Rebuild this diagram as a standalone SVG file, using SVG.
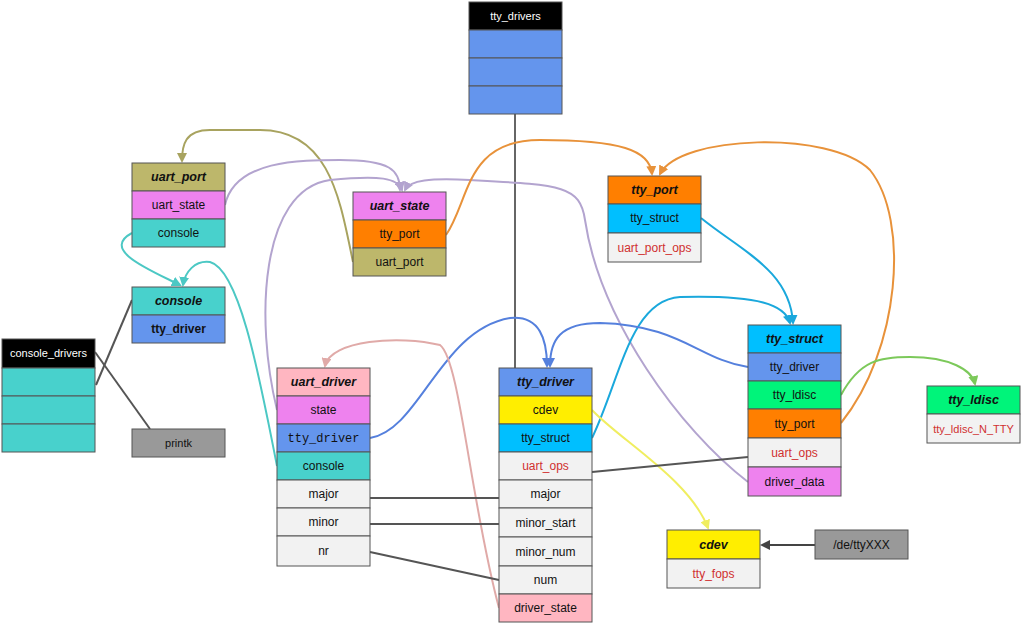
<svg xmlns="http://www.w3.org/2000/svg" width="1024" height="628" viewBox="0 0 1024 628">
<style>
rect{stroke:#555;stroke-width:1}
text{font-family:"Liberation Sans",Arial,sans-serif;font-size:12px;text-anchor:middle;fill:#111}
.h{font-weight:bold;font-style:italic;font-size:12.5px}
.w{fill:#fff}
.r{fill:#d03030}
.m{font-family:"Liberation Mono","DejaVu Sans Mono",monospace}
.s{font-size:11px}
.bk{fill:#000}.bl{fill:#6495ed}.ol{fill:#bdb76b}.vi{fill:#ee82ee}.tq{fill:#48d1cc}.or{fill:#ff7f00}.sk{fill:#00bfff}.lt{fill:#f2f2f2}.pk{fill:#ffb6c1}.ye{fill:#ffee00}.gr{fill:#00f47a}.gy{fill:#999}
#conn path,#conn line{fill:none;stroke-width:2}
</style>
<defs>
<marker id="aOl" markerWidth="10" markerHeight="10" refX="8" refY="5" orient="auto" markerUnits="userSpaceOnUse"><path d="M0,0L10,5L0,10z" fill="#a8a35f"/></marker>
<marker id="aVi" markerWidth="10" markerHeight="10" refX="8" refY="5" orient="auto" markerUnits="userSpaceOnUse"><path d="M0,0L10,5L0,10z" fill="#b3a4cf"/></marker>
<marker id="aOr" markerWidth="10" markerHeight="10" refX="8" refY="5" orient="auto" markerUnits="userSpaceOnUse"><path d="M0,0L10,5L0,10z" fill="#e8923a"/></marker>
<marker id="aSk" markerWidth="10" markerHeight="10" refX="8" refY="5" orient="auto" markerUnits="userSpaceOnUse"><path d="M0,0L10,5L0,10z" fill="#1aa8dc"/></marker>
<marker id="aBl" markerWidth="10" markerHeight="10" refX="8" refY="5" orient="auto" markerUnits="userSpaceOnUse"><path d="M0,0L10,5L0,10z" fill="#5580dd"/></marker>
<marker id="aPk" markerWidth="10" markerHeight="10" refX="8" refY="5" orient="auto" markerUnits="userSpaceOnUse"><path d="M0,0L10,5L0,10z" fill="#e0aaa8"/></marker>
<marker id="aTq" markerWidth="10" markerHeight="10" refX="8" refY="5" orient="auto" markerUnits="userSpaceOnUse"><path d="M0,0L10,5L0,10z" fill="#4cc8c4"/></marker>
<marker id="aGr" markerWidth="10" markerHeight="10" refX="8" refY="5" orient="auto" markerUnits="userSpaceOnUse"><path d="M0,0L10,5L0,10z" fill="#7cc95a"/></marker>
<marker id="aYe" markerWidth="10" markerHeight="10" refX="8" refY="5" orient="auto" markerUnits="userSpaceOnUse"><path d="M0,0L10,5L0,10z" fill="#f0ee60"/></marker>
<marker id="aDk" markerWidth="10" markerHeight="10" refX="8" refY="5" orient="auto" markerUnits="userSpaceOnUse"><path d="M0,0L10,5L0,10z" fill="#444"/></marker>
</defs>
<g id="conn">
<line x1="515" y1="114" x2="515" y2="368" stroke="#666"/>
<path d="M353,262 C340,200 330,130 260,130 L210,130 C185,130 182,145 182,161" stroke="#a8a35f" marker-end="url(#aOl)"/>
<path d="M225,205 C235,160 300,160 340,160 C390,160 400,170 400,190" stroke="#b3a4cf" marker-end="url(#aVi)"/>
<path d="M277,410 C255,320 260,190 330,180 C380,175 398,178 402,190" stroke="#b3a4cf" marker-end="url(#aVi)"/>
<path d="M748,482 C680,430 600,320 585,220 C580,185 560,185 470,180 C430,178 410,180 405,190" stroke="#b3a4cf" marker-end="url(#aVi)"/>
<path d="M446,235 C470,200 465,140 540,140 C620,140 650,150 652,174" stroke="#e8923a" marker-end="url(#aOr)"/>
<path d="M841,423 C900,350 910,220 870,170 C830,130 680,135 660,174" stroke="#e8923a" marker-end="url(#aOr)"/>
<path d="M701,218 C740,250 790,270 793,323" stroke="#1aa8dc" marker-end="url(#aSk)"/>
<path d="M592,438 C620,380 630,300 680,297 C760,295 785,305 790,323" stroke="#1aa8dc" marker-end="url(#aSk)"/>
<path d="M370,438 C420,430 440,330 510,318 C540,315 547,340 547,366" stroke="#5580dd" marker-end="url(#aBl)"/>
<path d="M748,367 C700,360 680,325 600,323 C560,323 550,340 550,366" stroke="#5580dd" marker-end="url(#aBl)"/>
<path d="M499,608 C470,500 460,360 440,345 C400,335 330,340 325,366" stroke="#e0aaa8" marker-end="url(#aPk)"/>
<path d="M132,233 C100,250 150,270 180,285" stroke="#4cc8c4" marker-end="url(#aTq)"/>
<path d="M277,466 C260,380 240,270 210,262 C195,260 185,272 183,285" stroke="#4cc8c4" marker-end="url(#aTq)"/>
<path d="M841,395 C860,360 880,357 910,357 C950,357 972,370 975,384" stroke="#7cc95a" marker-end="url(#aGr)"/>
<path d="M592,410 C620,440 690,480 708,528" stroke="#f0ee60" marker-end="url(#aYe)"/>
<line x1="96" y1="385" x2="132" y2="300" stroke="#555"/>
<line x1="95" y1="352" x2="150" y2="429" stroke="#555"/>
<line x1="370" y1="498" x2="499" y2="498" stroke="#555"/>
<line x1="370" y1="524" x2="499" y2="524" stroke="#555"/>
<line x1="370" y1="552" x2="499" y2="580" stroke="#555"/>
<line x1="592" y1="472" x2="748" y2="457" stroke="#555"/>
<line x1="815" y1="545" x2="762" y2="545" stroke="#444" marker-end="url(#aDk)"/>
</g>
<g id="tty_drivers">
<rect class="bk" x="469" y="2" width="93" height="28"/><text class="w s" x="515.5" y="20">tty_drivers</text>
<rect class="bl" x="469" y="30" width="93" height="28"/><rect class="bl" x="469" y="58" width="93" height="28"/><rect class="bl" x="469" y="86" width="93" height="28"/>
</g>
<g id="uart_port">
<rect class="ol" x="132" y="163" width="93" height="28"/><text class="h" x="178.5" y="181">uart_port</text>
<rect class="vi" x="132" y="191" width="93" height="28"/><text x="178.5" y="209">uart_state</text>
<rect class="tq" x="132" y="219" width="93" height="28"/><text x="178.5" y="237">console</text>
</g>
<g id="uart_state">
<rect class="vi" x="353" y="192" width="93" height="28"/><text class="h" x="399.5" y="210">uart_state</text>
<rect class="or" x="353" y="220" width="93" height="28"/><text x="399.5" y="238">tty_port</text>
<rect class="ol" x="353" y="248" width="93" height="28"/><text x="399.5" y="266">uart_port</text>
</g>
<g id="tty_port">
<rect class="or" x="608" y="176" width="93" height="28"/><text class="h" x="654.5" y="194">tty_port</text>
<rect class="sk" x="608" y="204" width="93" height="29"/><text x="654.5" y="222">tty_struct</text>
<rect class="lt" x="608" y="233" width="93" height="29"/><text class="r" x="654.5" y="252">uart_port_ops</text>
</g>
<g id="console">
<rect class="tq" x="132" y="287" width="93" height="28"/><text class="h" x="178.5" y="305">console</text>
<rect class="bl" x="132" y="315" width="93" height="28"/><text x="178.5" y="333" font-weight="bold">tty_driver</text>
</g>
<g id="console_drivers">
<rect class="bk" x="2" y="339" width="93" height="29"/><text class="w s" x="48.5" y="357">console_drivers</text>
<rect class="tq" x="2" y="368" width="93" height="28"/><rect class="tq" x="2" y="396" width="93" height="28"/><rect class="tq" x="2" y="424" width="93" height="28"/>
</g>
<g id="printk">
<rect class="gy" x="132" y="429" width="93" height="28"/><text class="s" x="178.5" y="447">printk</text>
</g>
<g id="uart_driver">
<rect class="pk" x="277" y="368" width="93" height="28"/><text class="h" x="323.5" y="386">uart_driver</text>
<rect class="vi" x="277" y="396" width="93" height="28"/><text x="323.5" y="414">state</text>
<rect class="bl" x="277" y="424" width="93" height="28"/><text class="m" x="323.5" y="442">tty_driver</text>
<rect class="tq" x="277" y="452" width="93" height="28"/><text x="323.5" y="470">console</text>
<rect class="lt" x="277" y="480" width="93" height="28"/><text x="323.5" y="498">major</text>
<rect class="lt" x="277" y="508" width="93" height="28"/><text x="323.5" y="526">minor</text>
<rect class="lt" x="277" y="536" width="93" height="30"/><text x="323.5" y="555">nr</text>
</g>
<g id="tty_driver">
<rect class="bl" x="499" y="368" width="93" height="28"/><text class="h" x="545.5" y="386">tty_driver</text>
<rect class="ye" x="499" y="396" width="93" height="28"/><text x="545.5" y="414">cdev</text>
<rect class="sk" x="499" y="424" width="93" height="28"/><text x="545.5" y="442">tty_struct</text>
<rect class="lt" x="499" y="452" width="93" height="28"/><text class="r" x="545.5" y="470">uart_ops</text>
<rect class="lt" x="499" y="480" width="93" height="28"/><text x="545.5" y="498">major</text>
<rect class="lt" x="499" y="508" width="93" height="29"/><text x="545.5" y="527">minor_start</text>
<rect class="lt" x="499" y="537" width="93" height="29"/><text x="545.5" y="556">minor_num</text>
<rect class="lt" x="499" y="566" width="93" height="28"/><text x="545.5" y="584">num</text>
<rect class="pk" x="499" y="594" width="93" height="28"/><text x="545.5" y="612">driver_state</text>
</g>
<g id="tty_struct">
<rect class="sk" x="748" y="325" width="93" height="28"/><text class="h" x="794.5" y="343">tty_struct</text>
<rect class="bl" x="748" y="353" width="93" height="28"/><text x="794.5" y="371">tty_driver</text>
<rect class="gr" x="748" y="381" width="93" height="28"/><text x="794.5" y="399">tty_ldisc</text>
<rect class="or" x="748" y="409" width="93" height="29"/><text x="794.5" y="428">tty_port</text>
<rect class="lt" x="748" y="438" width="93" height="29"/><text class="r" x="794.5" y="457">uart_ops</text>
<rect class="vi" x="748" y="467" width="93" height="29"/><text x="794.5" y="486">driver_data</text>
</g>
<g id="tty_ldisc">
<rect class="gr" x="927" y="386" width="93" height="28"/><text class="h" x="973.5" y="404">tty_ldisc</text>
<rect class="lt" x="927" y="414" width="93" height="29"/><text class="r s" x="973.5" y="433">tty_ldisc_N_TTY</text>
</g>
<g id="cdev">
<rect class="ye" x="667" y="530" width="93" height="29"/><text class="h" x="713.5" y="549">cdev</text>
<rect class="lt" x="667" y="559" width="93" height="29"/><text class="r" x="713.5" y="578">tty_fops</text>
</g>
<g id="dev">
<rect class="gy" x="815" y="530" width="93" height="29"/><text x="861.5" y="549">/de/ttyXXX</text>
</g>
</svg>
